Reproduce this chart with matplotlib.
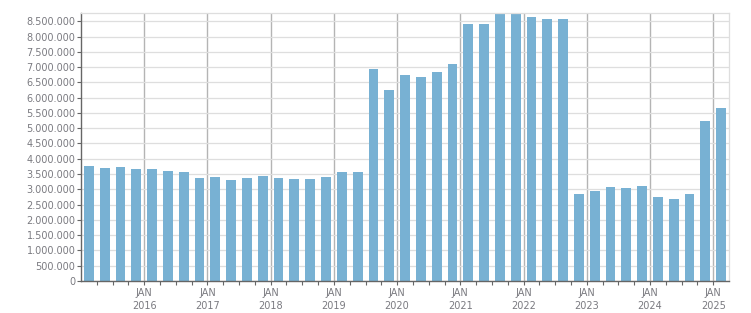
import numpy as np
import matplotlib
matplotlib.use("Agg")
import matplotlib.pyplot as plt
from matplotlib.ticker import FixedLocator, FuncFormatter

# quarterly values, Q1 2015 .. Q1 2025
quarters = ["2015Q1", "2015Q2", "2015Q3", "2015Q4",
            "2016Q1", "2016Q2", "2016Q3", "2016Q4",
            "2017Q1", "2017Q2", "2017Q3", "2017Q4",
            "2018Q1", "2018Q2", "2018Q3", "2018Q4",
            "2019Q1", "2019Q2", "2019Q3", "2019Q4",
            "2020Q1", "2020Q2", "2020Q3", "2020Q4",
            "2021Q1", "2021Q2", "2021Q3", "2021Q4",
            "2022Q1", "2022Q2", "2022Q3", "2022Q4",
            "2023Q1", "2023Q2", "2023Q3", "2023Q4",
            "2024Q1", "2024Q2", "2024Q3", "2024Q4",
            "2025Q1"]
values = [3774000, 3708000, 3741000, 3665000,
          3665000, 3610000, 3567000, 3381000,
          3414000, 3316000, 3381000, 3447000,
          3381000, 3338000, 3338000, 3414000,
          3578000, 3578000, 6948000, 6260000,
          6752000, 6686000, 6850000, 7112000,
          8420000, 8420000, 8800000, 8800000,
          8650000, 8573000, 8573000, 2857000,
          2956000, 3076000, 3043000, 3119000,
          2759000, 2694000, 2857000, 5246000,
          5672000]
years = list(range(2016, 2026))

# quarter -> position in years, bar at middle of the quarter
xpos = np.array([int(q[:4]) + (int(q[-1]) - 1) * 0.25 + 0.125 for q in quarters])

fig = plt.figure(figsize=(7.51, 3.13), dpi=100)
ax = fig.add_axes([0.1079, 0.1022, 0.8628, 0.8553])

bar_col = "#78b1d3"
txt_col = "#7a7a80"

ax.bar(xpos, values, width=0.155, color=bar_col, zorder=2)

ax.set_xlim(2015, 2025.25)
ax.set_ylim(0, 8760000)

ax.yaxis.set_major_locator(FixedLocator(np.arange(0, 8500001, 500000)))
ax.yaxis.set_major_formatter(FuncFormatter(lambda v, p: f"{int(v):,}".replace(",", ".")))

ax.xaxis.set_major_locator(FixedLocator(years))
ax.xaxis.set_major_formatter(FuncFormatter(lambda v, p: f"JAN\n{int(round(v))}"))
ax.xaxis.set_minor_locator(FixedLocator(np.arange(2015.25, 2025.25, 0.25)))

ax.grid(axis="y", color="#dedede", linewidth=0.9, zorder=0)
ax.grid(axis="x", which="major", color="#b4b4b4", linewidth=1.0, zorder=0)
ax.set_axisbelow(True)

for s in ["top", "right"]:
    ax.spines[s].set_color("#dedede")
    ax.spines[s].set_linewidth(0.9)
for s in ["left", "bottom"]:
    ax.spines[s].set_color("#666666")
    ax.spines[s].set_linewidth(1.0)

ax.tick_params(axis="y", length=3, width=0.8, color="#666666", labelsize=7, labelcolor=txt_col, pad=1)
ax.tick_params(axis="x", which="both", length=3, width=0.8, color="#666666", labelsize=7, labelcolor=txt_col, pad=2)
for lab in ax.get_xticklabels():
    lab.set_linespacing(1.35)

fig.savefig("out.png", dpi=100)
